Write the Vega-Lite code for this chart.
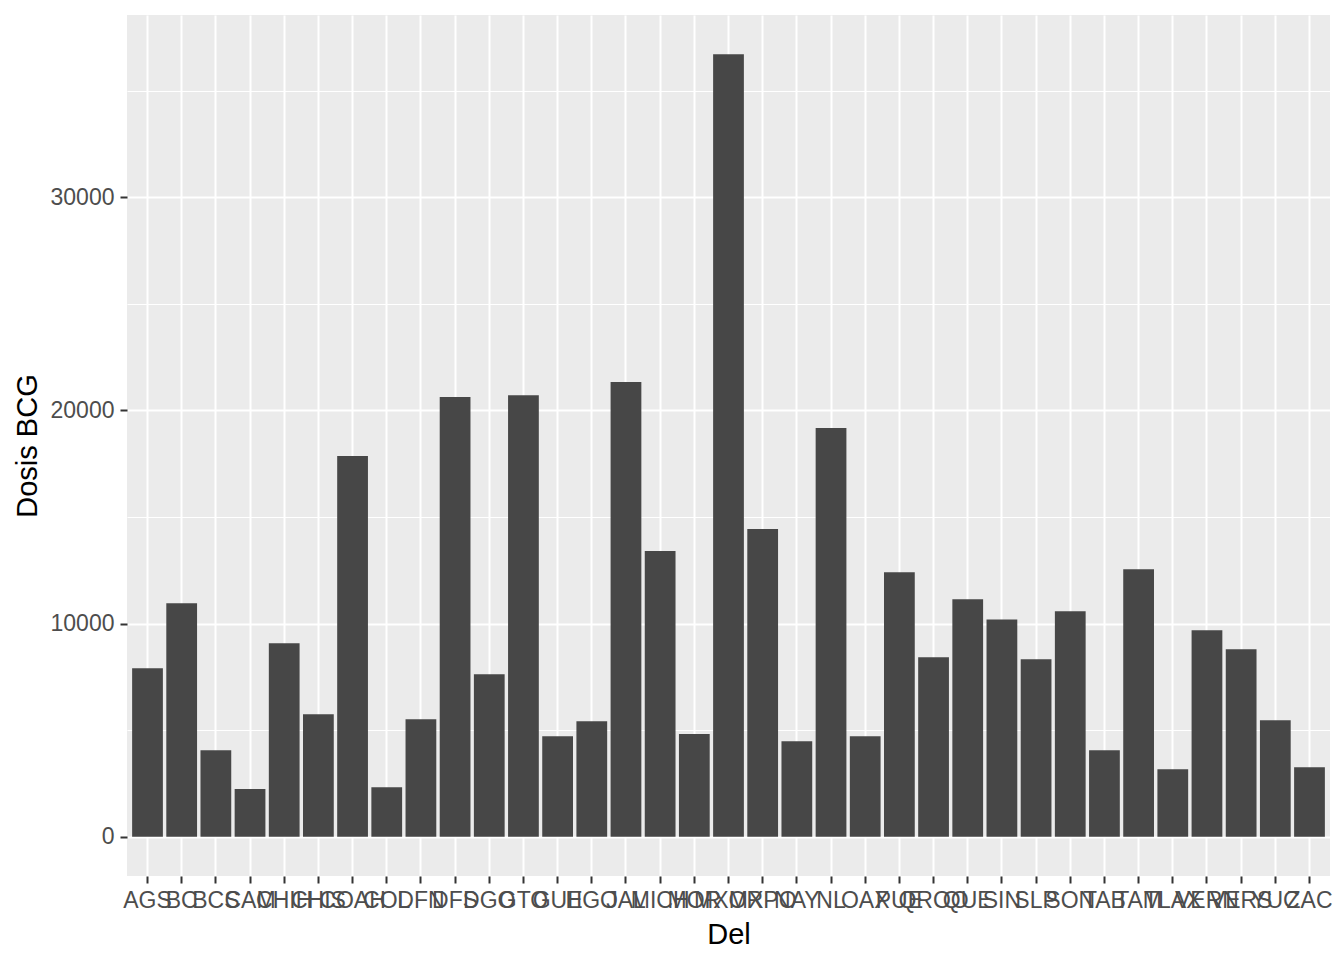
{
  "$schema": "https://vega.github.io/schema/vega-lite/v6.json",
  "autosize": {"type": "none"},
  "width": 1203,
  "height": 861,
  "padding": {"left": 127, "top": 15, "right": 14, "bottom": 84},
  "background": "white",
  "config": {
    "font": "Liberation Sans",
    "view": {"fill": "#EBEBEB", "stroke": null},
    "axis": {
      "domain": false,
      "gridColor": "white",
      "tickColor": "#333333",
      "tickWidth": 2,
      "tickSize": 7,
      "labelColor": "#4D4D4D",
      "labelFont": "Liberation Sans",
      "labelFontSize": 23,
      "labelPadding": 6,
      "titleFont": "Liberation Sans",
      "titleFontSize": 29,
      "titleFontWeight": "normal",
      "titleColor": "black"
    }
  },
  "data": {
    "values": [
      {"Del": "AGS", "BCG": 7910},
      {"Del": "BC", "BCG": 10960},
      {"Del": "BCS", "BCG": 4065},
      {"Del": "CAM", "BCG": 2240},
      {"Del": "CHIH", "BCG": 9080},
      {"Del": "CHIS", "BCG": 5750},
      {"Del": "COAH", "BCG": 17860},
      {"Del": "COL", "BCG": 2330},
      {"Del": "DFN", "BCG": 5520},
      {"Del": "DFS", "BCG": 20630},
      {"Del": "DGO", "BCG": 7630},
      {"Del": "GTO", "BCG": 20710},
      {"Del": "GUE", "BCG": 4720},
      {"Del": "HGO", "BCG": 5420},
      {"Del": "JAL", "BCG": 21330},
      {"Del": "MICH", "BCG": 13410},
      {"Del": "MOR", "BCG": 4820},
      {"Del": "MXOR", "BCG": 36710},
      {"Del": "MXPO", "BCG": 14440},
      {"Del": "NAY", "BCG": 4490},
      {"Del": "NL", "BCG": 19180},
      {"Del": "OAX", "BCG": 4720},
      {"Del": "PUE", "BCG": 12410},
      {"Del": "QROO", "BCG": 8425},
      {"Del": "QUE", "BCG": 11140},
      {"Del": "SIN", "BCG": 10200},
      {"Del": "SLP", "BCG": 8330},
      {"Del": "SON", "BCG": 10580},
      {"Del": "TAB", "BCG": 4065},
      {"Del": "TAM", "BCG": 12550},
      {"Del": "TLAX", "BCG": 3175},
      {"Del": "VERN", "BCG": 9690},
      {"Del": "VERS", "BCG": 8800},
      {"Del": "YUC", "BCG": 5470},
      {"Del": "ZAC", "BCG": 3270}
    ]
  },
  "layer": [
    {
      "mark": {"type": "bar", "opacity": 0},
      "encoding": {
        "x": {
          "field": "Del", "type": "nominal", "sort": null,
          "scale": {"paddingInner": 0.1, "paddingOuter": 0.15},
          "axis": {"title": "Del", "labelAngle": 0, "grid": true, "gridWidth": 2, "bandPosition": 0.5,
                   "labelOverlap": false, "titlePadding": 8}
        },
        "y": {
          "field": "BCG", "type": "quantitative",
          "scale": {"domain": [-1835, 38545], "nice": false, "zero": false},
          "axis": {"orient": "left", "values": [5000, 15000, 25000, 35000], "grid": true, "gridWidth": 1,
                   "labels": false, "ticks": false, "title": null}
        }
      }
    },
    {
      "mark": {"type": "bar", "color": "#474747"},
      "encoding": {
        "x": {
          "field": "Del", "type": "nominal", "sort": null,
          "scale": {"paddingInner": 0.1, "paddingOuter": 0.15},
          "axis": {"title": "Del", "labelAngle": 0, "grid": true, "gridWidth": 2, "bandPosition": 0.5,
                   "labelOverlap": false, "titlePadding": 8}
        },
        "y": {
          "field": "BCG", "type": "quantitative",
          "scale": {"domain": [-1835, 38545], "nice": false, "zero": false},
          "axis": {"orient": "left", "title": "Dosis BCG", "values": [0, 10000, 20000, 30000], "grid": true, "gridWidth": 2,
                   "format": "d", "titlePadding": 8}
        },
        "y2": {"datum": 0}
      }
    }
  ],
  "resolve": {"axis": {"y": "independent"}}
}
